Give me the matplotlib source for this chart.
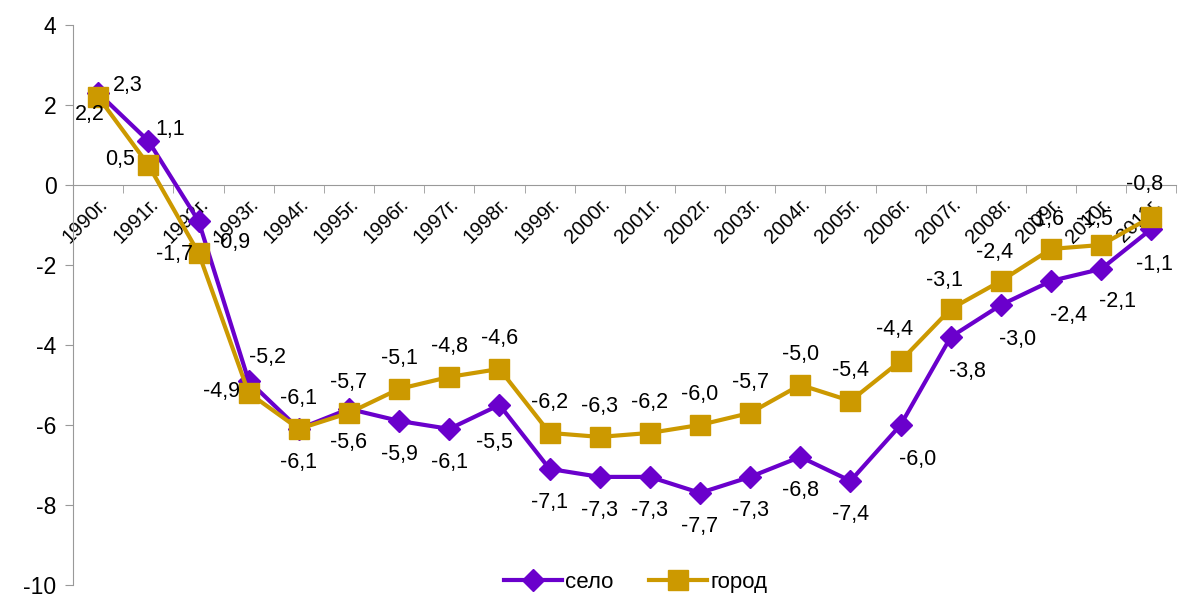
import matplotlib.pyplot as plt
import numpy as np

plt.rcParams['font.family'] = ['Liberation Sans', 'DejaVu Sans']
plt.rcParams['axes.unicode_minus'] = False

years = ['1990г.', '1991г.', '1992г.', '1993г.', '1994г.', '1995г.', '1996г.', '1997г.',
         '1998г.', '1999г.', '2000г.', '2001г.', '2002г.', '2003г.', '2004г.', '2005г.',
         '2006г.', '2007г.', '2008г.', '2009г.', '2010г.', '2011г.']
selo = [2.3, 1.1, -0.9, -4.9, -6.1, -5.6, -5.9, -6.1, -5.5, -7.1, -7.3,
        -7.3, -7.7, -7.3, -6.8, -7.4, -6.0, -3.8, -3.0, -2.4, -2.1, -1.1]
gorod = [2.2, 0.5, -1.7, -5.2, -6.1, -5.7, -5.1, -4.8, -4.6, -6.2, -6.3,
         -6.2, -6.0, -5.7, -5.0, -5.4, -4.4, -3.1, -2.4, -1.6, -1.5, -0.8]

purple = '#6a00cc'
gold = '#cc9900'

fig = plt.figure(figsize=(11.8, 5.95), dpi=100)
ax = fig.add_axes([0.062, 0.017, 0.935, 0.941])

x = np.arange(len(years))
ax.plot(x, selo, color=purple, lw=3, marker='D', ms=11.5, label='село', zorder=3)
ax.plot(x, gorod, color=gold, lw=3, marker='s', ms=14, label='город', zorder=3)

# label offsets in pixels (dx, dy); default: село below, город above
off_selo = {0: (30, 7), 1: (22, 11), 2: (33, -22), 3: (-27, -11), 8: (-5, -38),
            16: (17, -35), 17: (17, -35), 18: (17, -35), 19: (17, -35), 20: (16, -33),
            21: (3, -36)}
off_gorod = {0: (-8, -18), 1: (-28, 5), 2: (-24, -2), 3: (19, 35), 16: (-6, 31),
             17: (-6, 28), 18: (-6, 28), 19: (-6, 29), 20: (-7, 25), 21: (-7, 32)}

def fmt(v):
    return f'{v:.1f}'.replace('.', ',')

for i, v in enumerate(selo):
    dx, dy = off_selo.get(i, (0, -34))
    ax.annotate(fmt(v), (i, v), xytext=(dx, dy), textcoords='offset pixels',
                ha='center', va='center', fontsize=15.5, zorder=4)
for i, v in enumerate(gorod):
    dx, dy = off_gorod.get(i, (0, 30))
    ax.annotate(fmt(v), (i, v), xytext=(dx, dy), textcoords='offset pixels',
                ha='center', va='center', fontsize=15.5, zorder=4)

ax.set_xlim(-0.5, len(years) - 0.5)
ax.set_ylim(-10, 4)
ax.set_yticks(range(-10, 5, 2))
ax.tick_params(axis='y', labelsize=16.5, color='#999999', length=6, pad=6)

ax.spines['top'].set_visible(False)
ax.spines['right'].set_visible(False)
ax.spines['left'].set_color('#999999')
ax.spines['bottom'].set_color('#999999')
ax.spines['bottom'].set_position(('data', 0))

ax.set_xticks(x)
ax.set_xticklabels(years, rotation=45, ha='right', rotation_mode='anchor', fontsize=14.5)
ax.set_xticks(np.arange(len(years) + 1) - 0.5, minor=True)
ax.tick_params(axis='x', which='major', length=0, pad=7)
ax.tick_params(axis='x', which='minor', length=6, color='#999999', direction='out')

ax.legend(loc='lower center', bbox_to_anchor=(0.51, -0.05), ncol=2, frameon=False,
          fontsize=16, handlelength=2.6, columnspacing=1.6, handletextpad=0.15)

plt.savefig('out.png')
